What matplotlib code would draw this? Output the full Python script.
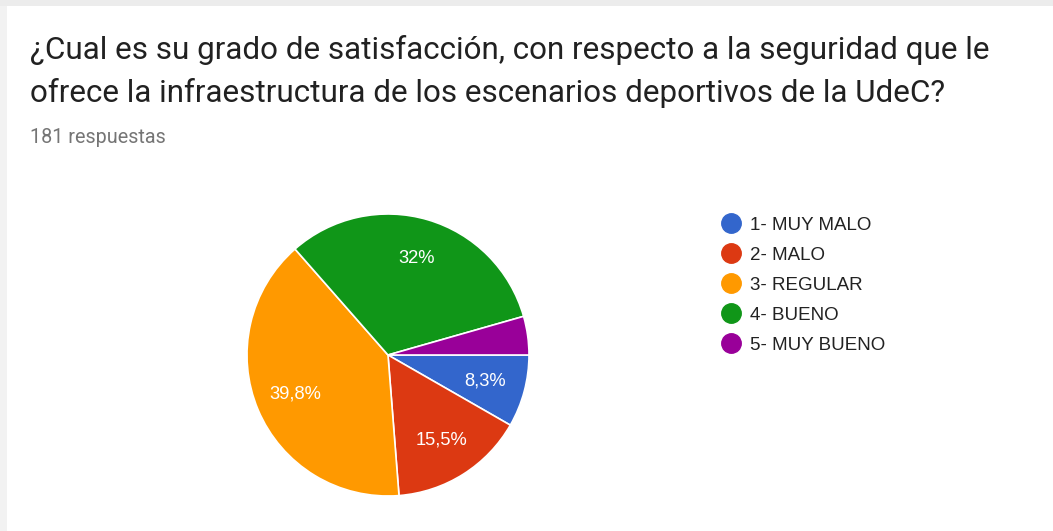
import matplotlib.pyplot as plt
from matplotlib.patches import Rectangle
from matplotlib.lines import Line2D

title_lines = ["¿Cual es su grado de satisfacción, con respecto a la seguridad que le",
               "ofrece la infraestructura de los escenarios deportivos de la UdeC?"]
subtitle = "181 respuestas"
categories = ["1- MUY MALO", "2- MALO", "3- REGULAR", "4- BUENO", "5- MUY BUENO"]
counts = [15, 28, 72, 58, 8]
colors = ["#3366CC", "#DC3912", "#FF9900", "#109618", "#990099"]

W, H = 1053, 531


def pct_label(p):
    if p < 5:
        return ""
    s = f"{p:.1f}".replace(".", ",")
    if s.endswith(",0"):
        s = s[:-2]
    return s + "%"


def main():
    fig = plt.figure(figsize=(W / 100, H / 100), dpi=100)
    fig.patch.set_facecolor("white")

    # screenshot borders
    fig.patches.append(Rectangle((0, 1 - 6 / H), 1, 6 / H, transform=fig.transFigure,
                                 facecolor="#ececec", edgecolor="none"))
    fig.patches.append(Rectangle((0, 0), 7 / W, 1 - 6 / H, transform=fig.transFigure,
                                 facecolor="#f2f2f2", edgecolor="none"))

    for i, line in enumerate(title_lines):
        fig.text(30 / W, 1 - (59 + 43 * i) / H, line, fontsize=22.6, family="Roboto",
                 color="#212121", va="baseline", ha="left")
    fig.text(30 / W, 1 - 143 / H, subtitle, fontsize=14.2, family="Roboto", color="#757575",
             va="baseline", ha="left")

    cx, cy, r = 388, 355, 141
    ax = fig.add_axes([(cx - r) / W, (H - cy - r) / H, 2 * r / W, 2 * r / H])
    ax.pie(counts, colors=colors, startangle=0, counterclock=False,
           autopct=lambda p: pct_label(p), pctdistance=0.71,
           wedgeprops=dict(edgecolor="white", linewidth=1.2),
           textprops=dict(color="white", fontsize=13.2, family="Liberation Sans"))
    ax.set_xlim(-1, 1)
    ax.set_ylim(-1, 1)
    ax.set_aspect("equal")
    ax.axis("off")

    handles = [Line2D([0], [0], marker="o", linestyle="none", markersize=14,
                      markerfacecolor=c, markeredgecolor=c) for c in colors]
    fig.legend(handles, categories, loc="upper left", bbox_to_anchor=(712 / W, 1 - 209 / H),
               frameon=False, prop=dict(family="Liberation Sans", size=13.5),
               labelcolor="#222222", handletextpad=0.4, labelspacing=0.69,
               handlelength=1.2, borderaxespad=0)

    fig.savefig("out.png", dpi=100)


if __name__ == "__main__":
    main()
